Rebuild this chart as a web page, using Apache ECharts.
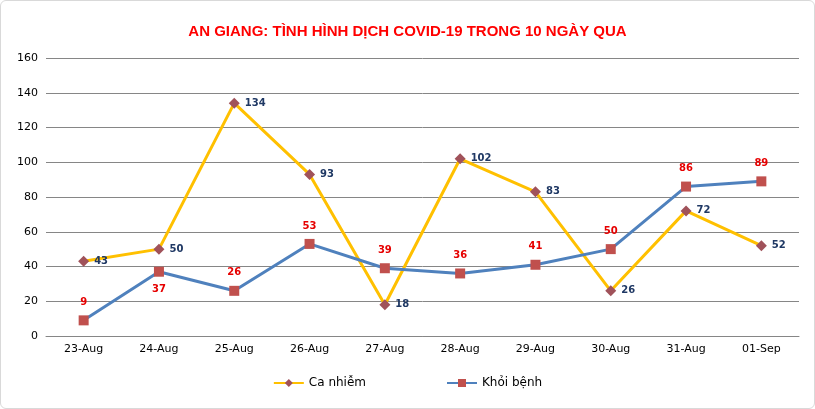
<!DOCTYPE html>
<html>
<head>
<meta charset="utf-8">
<script src="https://cdn.jsdelivr.net/npm/echarts@6/dist/echarts.min.js"></script>
<style>
html,body{margin:0;padding:0;background:#fff;}
#chart{width:813px;height:407px;border:1px solid #d9d9d9;border-radius:6px;}
</style>
</head>
<body>
<div id="chart"></div>
<script>
// du lieu 10 ngay
var categories = ['23-Aug','24-Aug','25-Aug','26-Aug','27-Aug','28-Aug','29-Aug','30-Aug','31-Aug','01-Sep'];
var caNhiem = [43, 50, 134, 93, 18, 102, 83, 26, 72, 52];
var khoiBenh = [9, 37, 26, 53, 39, 36, 41, 50, 86, 89];
var khoiBenhLabelPos = ['top','bottom','top','top','top','top','top','top','top','top'];

var chart = echarts.init(document.getElementById('chart'));

var khoiData = [];
for (var i = 0; i < khoiBenh.length; i++) {
    khoiData.push({ value: khoiBenh[i], label: { position: khoiBenhLabelPos[i] } });
}

var option = {
    textStyle: { fontFamily: 'DejaVu Sans' },
    title: {
        text: 'AN GIANG: TÌNH HÌNH DỊCH COVID-19 TRONG 10 NGÀY QUA',
        left: 'center',
        top: 18,
        textStyle: { color: '#ff0000', fontSize: 15, fontWeight: 'bold', fontFamily: 'Liberation Sans' }
    },
    legend: {
        bottom: 14,
        left: 'center',
        itemGap: 80,
        itemWidth: 30,
        itemHeight: 10,
        textStyle: { color: '#000', fontSize: 12 },
        data: ['Ca nhiễm', 'Khỏi bệnh']
    },
    grid: { left: 45, right: 15, top: 57, bottom: 72 },
    xAxis: {
        type: 'category',
        data: categories,
        axisLine: { lineStyle: { color: '#868686' } },
        axisTick: { show: false },
        axisLabel: { color: '#000', fontSize: 11 }
    },
    yAxis: {
        type: 'value',
        min: 0, max: 160, interval: 20,
        axisLine: { show: false },
        splitLine: { lineStyle: { color: '#868686' } },
        axisLabel: { color: '#000', fontSize: 11 }
    },
    series: [
        {
            name: 'Ca nhiễm',
            type: 'line',
            data: caNhiem,
            symbol: 'diamond',
            symbolSize: 11,
            lineStyle: { color: '#ffc000', width: 3 },
            itemStyle: { color: '#a0525a', borderWidth: 0 },
            label: { show: true, position: 'right', color: '#1f3864', fontSize: 10, fontWeight: 'bold' },
            z: 2
        },
        {
            name: 'Khỏi bệnh',
            type: 'line',
            data: khoiData,
            symbol: 'rect',
            symbolSize: 10,
            lineStyle: { color: '#4f81bd', width: 3 },
            itemStyle: { color: '#c0504d', borderWidth: 0 },
            label: { show: true, color: '#e60000', fontSize: 10, fontWeight: 'bold', distance: 8 },
            z: 3
        }
    ]
};
chart.setOption(option);
</script>
</body>
</html>
